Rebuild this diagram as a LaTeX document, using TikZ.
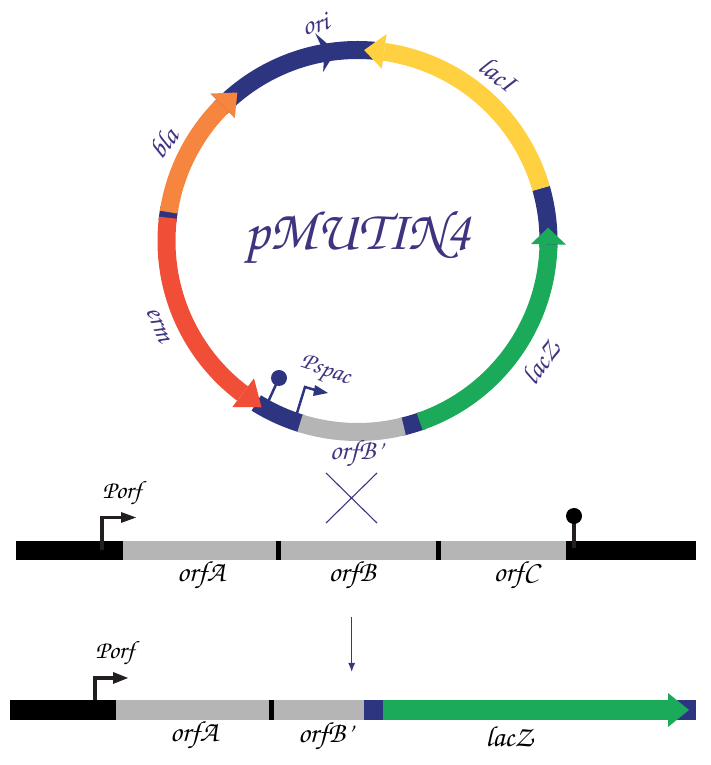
\documentclass[tikz,border=0pt]{standalone}
\usepackage{tikz}
\usetikzlibrary{arrows.meta}
\newcommand{\handfont}{\usefont{OT1}{pzc}{mb}{it}}
\definecolor{navyband}{HTML}{2E3580}
\definecolor{inkblue}{HTML}{3F3480}
\definecolor{lacIcol}{HTML}{FFD040}
\definecolor{lacZcol}{HTML}{1BA95A}
\definecolor{ermcol}{HTML}{F04E37}
\definecolor{blacol}{HTML}{F6853F}
\definecolor{orfcol}{HTML}{B5B5B5}
\definecolor{inkblack}{HTML}{231F20}
\tikzset{
	gene/.style={line width=18pt},
	plasmidlabel/.style={text=inkblue, font=\handfont\fontsize{28}{28}\selectfont},
	rowlabel/.style={text=black, font=\handfont\fontsize{29}{29}\selectfont},
	promlabel/.style={text=black, font=\handfont\fontsize{25}{25}\selectfont},
	promstem/.style={line width=3.5pt, draw=inkblack},
}
\begin{document}
\begin{tikzpicture}[x=1pt,y=1pt]

	\useasboundingbox (0,0) rectangle (710,765);
	\begin{scope}[shift={(357.5,524)}]
		\foreach \col/\from/\to in {navyband/16/-2, navyband/-70/-77, navyband/-107/-122, navyband/174/170, navyband/136/85,
			lacIcol/82/16, lacZcol/-1/-71, orfcol/-76/-107.5, ermcol/173/233, blacol/171.3/135}{
			\draw[gene, \col] (\from:191) arc (\from:\to:191);
		}
		\fill[lacIcol] (82:209) -- (88:191) -- (82:174) -- cycle;
		\fill[lacZcol] (-1:208.5) -- (4:191) -- (-1:173.5) -- cycle;
		\fill[ermcol] (233:208) -- (240:192) -- (233:172) -- cycle;
		\fill[blacol] (135:208.5) -- (129:191) -- (135:173.5) -- cycle;
		\fill[navyband] (101.5:212) -- (96.5:191) -- (101.5:172.5) -- (100:191) -- cycle;
	\end{scope}
	\node[plasmidlabel] (ori) at (315,741) [rotate=15] {ori};
	\node[plasmidlabel] (lacI) at (498,691) [rotate=-38] {lacI};
	\node[plasmidlabel] (bla) at (163,622) [rotate=52] {bla};
	\node[plasmidlabel] (erm) at (158,440) [rotate=-68] {erm};
	\node[plasmidlabel] (lacZ) at (540,403) [rotate=55] {lacZ};
	\node[plasmidlabel] (orfBring) at (356,311) {orfB'};
	\node[plasmidlabel, font=\handfont\fontsize{25}{25}\selectfont] (pspac) at (325,393) [rotate=-20] {Pspac};
	\node[text=inkblue, font=\handfont\fontsize{56}{56}\selectfont] (name) at (358,527) {pMUTIN4};

	\coordinate (termfoot) at (268,363);
	\coordinate (termball) at (279,387);
	\draw[line width=2.5pt, navyband] (termfoot) -- (termball);
	\fill[navyband] (termball) circle [radius=8];
	\coordinate (pspacfoot) at (297,352);
	\coordinate (pspacknee) at (305,378);
	\coordinate (pspactip) at (328,372);
	\draw[line width=2.5pt, navyband] (pspacfoot) -- (pspacknee) -- (315,375);
	\fill[navyband] (315,380) -- (pspactip) -- (313,369) -- cycle;

	\coordinate (crossa) at (326,292);
	\coordinate (crossb) at (377,242);
	\coordinate (crossc) at (326,242);
	\coordinate (crossd) at (377,292);
	\draw[inkblue, line width=1.1pt] (crossa) -- (crossb);
	\draw[inkblue, line width=1.1pt] (crossc) -- (crossd);

	\foreach \col/\from/\to in {black/16/123, orfcol/123/276, black/276/281, orfcol/281/436, black/436/441, orfcol/441/566, black/566/696}{
		\fill[\col] (\from,205) rectangle (\to,224);
	}
	\draw[promstem] (102,215) |- (122,247.5);
	\fill[inkblack] (121,253) -- (136,247.5) -- (121,242) -- cycle;
	\draw[line width=3.5pt, inkblack] (574,217) -- (574,249);
	\fill[black] (574,249) circle [radius=8];
	\node[promlabel] (porfa) at (122,271) {Porf};
	\node[rowlabel] (orfa) at (201,189) {orfA};
	\node[rowlabel] (orfb) at (352,189) {orfB};
	\node[rowlabel] (orfc) at (516,189) {orfC};

	\coordinate (downtop) at (351.7,148);
	\coordinate (downtip) at (351.7,93);
	\draw[-{Latex[length=9pt,width=7pt]}, inkblue, line width=1.2pt] (downtop) -- (downtip);

	\foreach \col/\from/\to in {black/10/116, orfcol/116/269, black/269/274, orfcol/274/364, navyband/364/383, navyband/660/696, lacZcol/383/668}{
		\fill[\col] (\from,45) rectangle (\to,65);
	}
	\fill[lacZcol] (668,72) -- (689,55) -- (668,38) -- cycle;
	\draw[promstem] (95,65) |- (114,87);
	\fill[inkblack] (113,93) -- (128,87) -- (113,81) -- cycle;
	\node[promlabel] (porfb) at (115,111) {Porf};
	\node[rowlabel] (orfaend) at (194,29) {orfA};
	\node[rowlabel] (orfbend) at (325,28) {orfB'};
	\node[rowlabel] (laczend) at (509,29) {lacZ};

\end{tikzpicture}
\end{document}
